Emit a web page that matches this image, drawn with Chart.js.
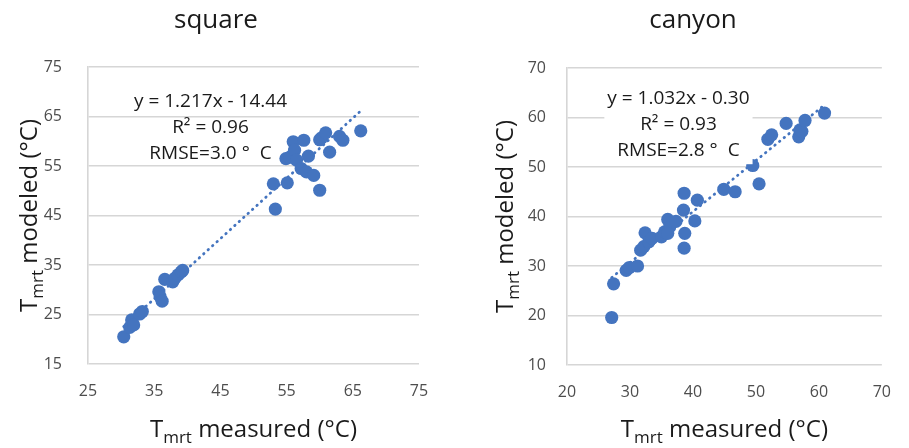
<!DOCTYPE html>
<html lang="en">
<head>
<meta charset="UTF-8">
<title>Tmrt measured vs modeled</title>
<script src="https://cdn.jsdelivr.net/npm/chart.js"></script>
<style>
  body { margin: 0; background: #fff; }
  .panel { position: absolute; top: 0; }
</style>
</head>
<body>
<div class="panel" style="left:0"><canvas id="squareChart" width="455" height="448"></canvas></div>
<div class="panel" style="left:455px"><canvas id="canyonChart" width="454" height="448"></canvas></div>

<script>
// square site: measured vs modeled Tmrt (°C)
const squareMeasured = [30.4, 31.3, 31.6, 31.9, 32.8, 33.2, 35.7, 35.9, 36.2, 36.6, 37.8, 38.1, 38.6, 39.1, 39.3,
  53.0, 53.3, 55.1, 54.9, 55.5, 56.0, 56.2, 56.5, 57.2, 57.6, 58.3, 58.0, 59.1, 60.0, 60.0, 60.3, 60.9, 61.5, 63.0, 63.5, 66.2];
const squareModeled = [20.5, 22.4, 23.9, 22.9, 25.1, 25.6, 29.6, 28.6, 27.7, 32.1, 31.6, 32.3, 33.0, 33.6, 33.9,
  51.4, 46.3, 51.6, 56.5, 56.8, 59.9, 58.2, 56.2, 54.5, 60.2, 57.0, 53.8, 53.1, 50.1, 60.3, 60.7, 61.7, 57.8, 61.0, 60.2, 62.1];
const squareXTicks = [25, 35, 45, 55, 65, 75];
const squareYTicks = [15, 25, 35, 45, 55, 65, 75];
const squareSlope = 1.217, squareIntercept = -14.44;
const squareStats = ['y = 1.217x - 14.44', 'R\u00B2 = 0.96', 'RMSE=3.0 \u00B0  C'];

// canyon site
const canyonMeasured = [27.1, 27.4, 29.4, 29.9, 31.2, 31.7, 32.2, 32.4, 33.0, 33.5, 35.0, 35.5, 36.0, 36.3, 36.0, 37.3,
  38.6, 38.5, 38.7, 38.6, 40.3, 40.7, 44.9, 46.7, 49.5, 50.5, 51.9, 52.5, 54.8, 56.8, 57.0, 57.3, 57.8, 60.9];
const canyonModeled = [19.6, 26.4, 29.1, 29.7, 30.0, 33.2, 33.9, 36.7, 34.9, 35.6, 35.9, 36.9, 39.4, 37.9, 36.6, 39.0,
  44.7, 41.3, 36.6, 33.6, 39.1, 43.3, 45.5, 45.0, 50.3, 46.6, 55.6, 56.5, 58.8, 56.1, 57.5, 57.2, 59.4, 60.9];
const canyonXTicks = [20, 30, 40, 50, 60, 70];
const canyonYTicks = [10, 20, 30, 40, 50, 60, 70];
const canyonSlope = 1.032, canyonIntercept = -0.30;
const canyonStats = ['y = 1.032x - 0.30', 'R\u00B2 = 0.93', 'RMSE=2.8 \u00B0  C'];

const BLUE = '#4474bf';
const FONT = '"Open Sans", sans-serif';

// draw a string made of runs (for the T_mrt subscript), centred on (x, y)
function drawRuns(ctx, x, y, angle, runs) {
  ctx.save();
  ctx.translate(x, y);
  ctx.rotate(angle);
  let total = 0;
  runs.forEach(r => {
    ctx.font = r.size + 'px ' + FONT;
    r.w = ctx.measureText(r.text).width;
    total += r.w;
  });
  let cx = -total / 2;
  ctx.textAlign = 'left';
  ctx.textBaseline = 'alphabetic';
  runs.forEach(r => {
    ctx.font = r.size + 'px ' + FONT;
    ctx.fillText(r.text, cx, r.dy || 0);
    cx += r.w;
  });
  ctx.restore();
}

function tmrtRuns(word) {
  return [
    { text: 'T', size: 24 },
    { text: 'mrt', size: 17, dy: 6 },
    { text: ' ' + word + ' (\u00B0C)', size: 24 }
  ];
}

const panelText = {
  id: 'panelText',
  afterDraw(chart, args, o) {
    const ctx = chart.ctx;
    const area = chart.chartArea;
    const xs = chart.scales.x, ys = chart.scales.y;
    ctx.save();
    ctx.fillStyle = '#1a1a1a';

    ctx.font = '26px ' + FONT;
    ctx.textAlign = 'center';
    ctx.textBaseline = 'alphabetic';
    ctx.fillText(o.title, o.titleX, 28);

    drawRuns(ctx, (area.left + area.right) / 2, 437, 0, tmrtRuns('measured'));
    drawRuns(ctx, o.yTitleX, (area.top + area.bottom) / 2, -Math.PI / 2, tmrtRuns('modeled'));

    // regression statistics
    const cx = xs.getPixelForValue(o.statsAt[0]);
    const cy = ys.getPixelForValue(o.statsAt[1]);
    ctx.font = '19px ' + FONT;
    ctx.textBaseline = 'middle';
    if (o.statsBox) {
      const w = Math.max(...o.stats.map(s => ctx.measureText(s).width)) + 6;
      ctx.fillStyle = '#fff';
      ctx.fillRect(cx - w / 2, cy - 14, w, 26 * (o.stats.length - 1) + 28);
      ctx.fillStyle = '#1a1a1a';
    }
    o.stats.forEach((s, i) => ctx.fillText(s, cx, cy + i * 26));
    ctx.restore();
  }
};

function makeChart(id, p) {
  const trendX = [Math.min(...p.measured), Math.max(...p.measured)];
  const points = p.measured.map((v, i) => ({ x: v, y: p.modeled[i] }));
  const trend = trendX.map(v => ({ x: v, y: p.slope * v + p.intercept }));
  const tickStyle = { color: '#4d4d4d', font: { family: FONT, size: 16 } };

  return new Chart(document.getElementById(id), {
    type: 'scatter',
    data: {
      datasets: [{
        data: points,
        backgroundColor: BLUE,
        borderWidth: 0,
        pointRadius: 6.6,
        order: 1
      }, {
        type: 'line',
        data: trend,
        borderColor: BLUE,
        borderWidth: 2.8,
        borderDash: [0.5, 5.5],
        borderCapStyle: 'round',
        pointRadius: 0,
        fill: false,
        order: 2
      }]
    },
    options: {
      responsive: false,
      animation: false,
      layout: { padding: { left: 0, top: p.top, right: p.right, bottom: 0 } },
      plugins: {
        legend: { display: false },
        tooltip: { enabled: false },
        panelText: p.text
      },
      scales: {
        x: {
          type: 'linear',
          min: p.xTicks[0],
          max: p.xTicks[p.xTicks.length - 1],
          ticks: { ...tickStyle, stepSize: p.xTicks[1] - p.xTicks[0], padding: 18 },
          grid: { display: false, drawTicks: false },
          border: { display: false },
          afterFit(s) { s.height = p.xHeight; }
        },
        y: {
          type: 'linear',
          min: p.yTicks[0],
          max: p.yTicks[p.yTicks.length - 1],
          ticks: { ...tickStyle, stepSize: p.yTicks[1] - p.yTicks[0], padding: p.yPad },
          grid: { color: '#d6d6d6', lineWidth: 1.6, drawTicks: false },
          border: { display: true, color: '#d6d6d6', width: 1.6 },
          afterFit(s) { s.width = p.yWidth; }
        }
      }
    },
    plugins: [panelText]
  });
}

makeChart('squareChart', {
  measured: squareMeasured, modeled: squareModeled,
  xTicks: squareXTicks, yTicks: squareYTicks,
  slope: squareSlope, intercept: squareIntercept,
  top: 67, right: 36, xHeight: 84, yWidth: 88, yPad: 26,
  text: { title: 'square', titleX: 216, yTitleX: 37, stats: squareStats, statsAt: [43.5, 68.0], statsBox: false }
});

makeChart('canyonChart', {
  measured: canyonMeasured, modeled: canyonModeled,
  xTicks: canyonXTicks, yTicks: canyonYTicks,
  slope: canyonSlope, intercept: canyonIntercept,
  top: 68, right: 14, xHeight: 83, yWidth: 112, yPad: 21,
  text: { title: 'canyon', titleX: 238, yTitleX: 58, stats: canyonStats, statsAt: [37.7, 63.9], statsBox: true }
});
</script>
</body>
</html>
